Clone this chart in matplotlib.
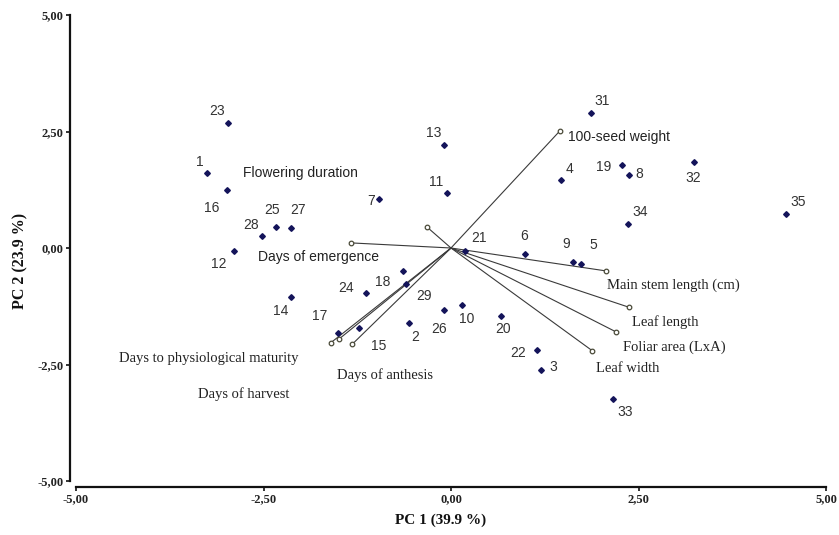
import matplotlib
matplotlib.use("Agg")
import matplotlib.pyplot as plt
from matplotlib.ticker import FixedLocator, FixedFormatter

# ---------------- data ----------------
genotypes = ["23", "1", "16", "28", "25", "27", "12", "14", "13", "11", "7", "21", "6",
             "9", "5", "31", "4", "19", "8", "32", "35", "34", "18", "24", "29", "17",
             "15", "2", "26", "10", "20", "22", "3", "33"]
pc1 = [-2.97, -3.26, -2.99, -2.52, -2.34, -2.13, -2.89, -2.14, -0.10, -0.06, -0.96, 0.19, 0.99,
       1.62, 1.73, 1.86, 1.46, 2.28, 2.37, 3.24, 4.46, 2.36, -0.64, -1.14, -0.60, -1.51,
       -1.23, -0.56, -0.10, 0.15, 0.66, 1.15, 1.20, 2.16]
pc2 = [2.69, 1.62, 1.25, 0.26, 0.45, 0.42, -0.06, -1.06, 2.21, 1.17, 1.05, -0.06, -0.13,
       -0.29, -0.34, 2.90, 1.46, 1.78, 1.57, 1.85, 0.73, 0.51, -0.49, -0.97, -0.78, -1.82,
       -1.72, -1.62, -1.33, -1.22, -1.45, -2.19, -2.62, -3.24]

variables = ["100-seed weight", "Flowering duration", "Days of emergence",
             "Main stem length (cm)", "Leaf length", "Foliar area (LxA)", "Leaf width",
             "Days to physiological maturity", "Days of harvest", "Days of anthesis"]
load_x = [1.45, -0.32, -1.34, 2.06, 2.37, 2.20, 1.88, -1.60, -1.49, -1.32]
load_y = [2.51, 0.45, 0.11, -0.49, -1.27, -1.80, -2.20, -2.03, -1.95, -2.07]

tick_values = [-5.0, -2.5, 0.0, 2.5, 5.0]
tick_labels = ["-5,00", "-2,50", "0,00", "2,50", "5,00"]
xlabel = "PC 1 (39.9 %)"
ylabel = "PC 2 (23.9 %)"

# ---------------- layout (pixel offsets of point labels) ----------------
label_offsets = [(-11, 12), (-7, 11), (-15, -18), (-11, 11), (-3, 17), (7, 18), (-15, -13),
                 (-10, -14), (-10, 12), (-10, 11), (-8, -2), (14, 13), (-1, 18),
                 (-6, 18), (13, 19), (12, 12), (9, 11), (-18, -2), (11, 1), (-1, -16),
                 (13, 12), (12, 12), (-20, -11), (-19, 5), (18, -12), (-18, 17),
                 (20, -18), (6, -14), (-4, -19), (4, -14), (3, -13), (-19, -3), (12, 3),
                 (12, -13)]
# text anchor (data coords), alignment and font family for variable labels
var_text_pos = [(1.56, 2.38), (-2.77, 1.62), (-2.57, -0.20), (2.08, -0.79), (2.41, -1.58),
                (2.29, -2.12), (1.93, -2.58), (-4.43, -2.37), (-3.38, -3.13), (-1.52, -2.73)]
var_serif = [False, False, False, True, True, True, True, True, True, True]

W, H, DPI = 839, 535, 100
fig = plt.figure(figsize=(W / DPI, H / DPI), dpi=DPI)
fig.patch.set_facecolor("white")
ax = fig.add_axes([76 / W, 1 - 481 / H, 750 / W, 466 / H])
ax.set_xlim(-5, 5)
ax.set_ylim(-5, 5)

# vectors
for vx, vy in zip(load_x, load_y):
    ax.plot([0, vx], [0, vy], color="#3a3a3a", lw=0.8, zorder=2, clip_on=False)
    ax.plot([vx], [vy], marker="o", ms=3.3, mfc="white", mec="#4a4a38", mew=0.9,
            zorder=3, clip_on=False)

# points
ax.plot(pc1, pc2, linestyle="none", marker="D", ms=2.9, color="#14145a", zorder=4,
        clip_on=False)

for g, x, y, (dx, dy) in zip(genotypes, pc1, pc2, label_offsets):
    ax.annotate(g, (x, y), xytext=(dx, dy), textcoords="offset pixels",
                ha="center", va="center", fontsize=10, color="#333333",
                family="Liberation Sans", zorder=5)

for name, (tx, ty), serif in zip(variables, var_text_pos, var_serif):
    ax.text(tx, ty, name, ha="left", va="center",
            fontsize=10.5 if serif else 10,
            family="Liberation Serif" if serif else "Liberation Sans",
            color="#222222", zorder=5)

# axes styling
for s in ["top", "right"]:
    ax.spines[s].set_visible(False)
for s in ["left", "bottom"]:
    ax.spines[s].set_linewidth(1.6)
    ax.spines[s].set_color("#111111")
    ax.spines[s].set_position(("outward", 4.5))
    ax.spines[s].set_bounds(-5, 5)

ax.xaxis.set_major_locator(FixedLocator(tick_values))
ax.xaxis.set_major_formatter(FixedFormatter(tick_labels))
ax.yaxis.set_major_locator(FixedLocator(tick_values))
ax.yaxis.set_major_formatter(FixedFormatter(tick_labels))
ax.tick_params(axis="both", direction="out", length=3, width=1.2, color="#111111",
               labelsize=9, pad=1.5)
for lab in ax.get_xticklabels() + ax.get_yticklabels():
    lab.set_fontfamily("Liberation Serif")
    lab.set_fontweight("bold")
    lab.set_color("#222222")

fig.text(440.5 / W, 1 - 520 / H, xlabel, ha="center", va="center", fontsize=11,
         family="Liberation Serif", fontweight="bold", color="#111111")
fig.text(20 / W, 1 - 261 / H, ylabel, ha="center", va="center", rotation=90,
         fontsize=11.5, family="Liberation Serif", fontweight="bold", color="#111111")

fig.savefig("out.png", dpi=DPI, facecolor="white")
